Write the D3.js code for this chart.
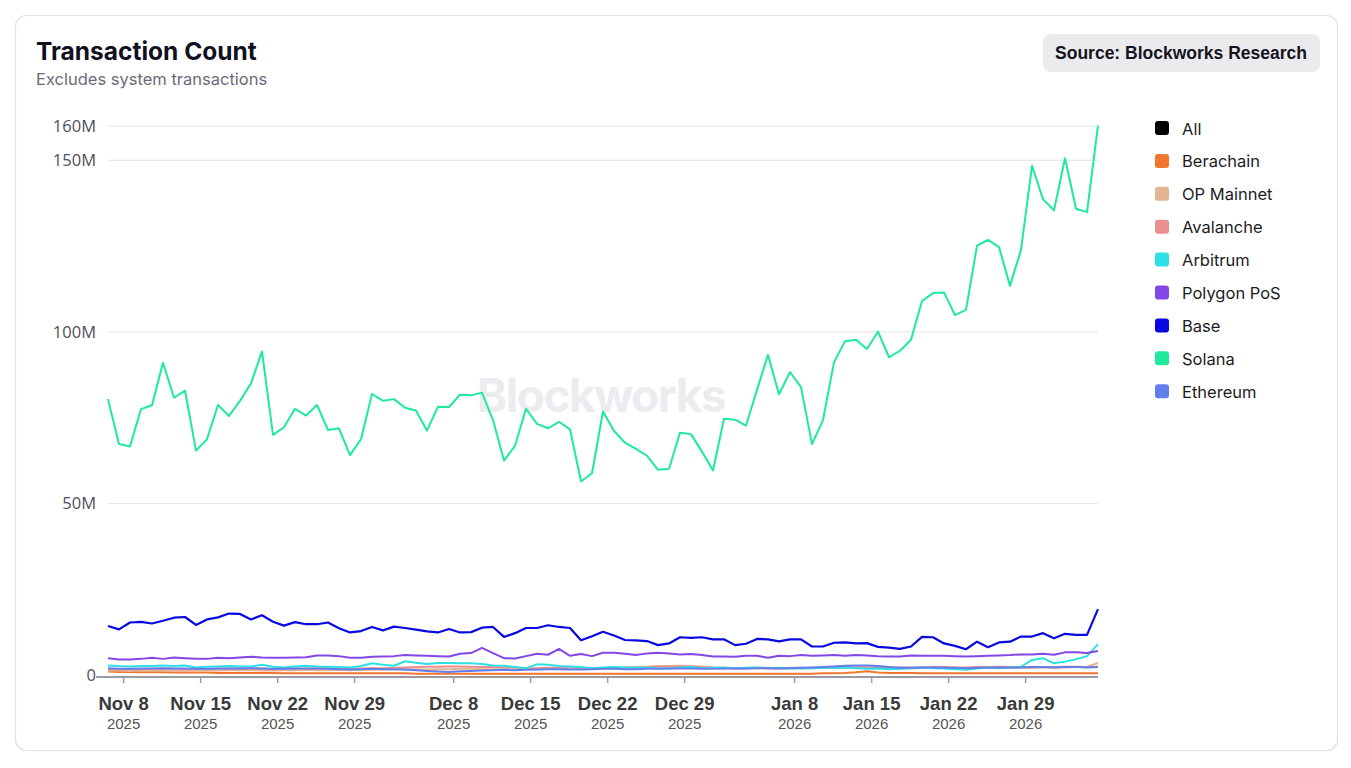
<!DOCTYPE html>
<html>
<head>
<meta charset="utf-8">
<script src="https://cdn.jsdelivr.net/npm/d3@7"></script>
<style>
  html, body { margin: 0; padding: 0; background: #ffffff; }
  svg { display: block; }
</style>
</head>
<body>
<svg id="chart" width="1351" height="768"></svg>
<script>
// ---------------- DATA ----------------
const startDate = "2025-11-07";
const pointCount = 91;

const seriesNames = ["All", "Berachain", "OP Mainnet", "Avalanche", "Arbitrum", "Polygon PoS", "Base", "Solana", "Ethereum"];
const seriesColors = ["#000000", "#f2762e", "#e3b492", "#ea8f8f", "#2de0e6", "#8247e5", "#0808e0", "#1eea9c", "#627eea"];

// values in millions of transactions per day
const solana = [80.4,67.3,66.6,77.5,78.6,91.0,80.8,82.9,65.4,68.7,78.7,75.5,79.9,85.0,94.3,70.0,72.2,77.6,75.6,78.7,71.4,71.9,64.1,68.7,81.9,79.9,80.4,77.9,77.1,71.2,78.2,78.1,81.7,81.5,82.3,74.3,62.5,66.8,77.6,73.2,71.9,73.8,71.6,56.4,58.8,76.8,71.1,67.7,65.9,63.9,59.8,60.1,70.6,70.2,65.1,59.6,74.7,74.4,72.7,83.1,93.3,81.8,88.3,83.9,67.3,74.3,91.1,97.3,97.7,95.0,100.1,92.6,94.5,97.7,109.0,111.3,111.5,104.9,106.4,125.1,126.8,124.7,113.4,123.9,148.4,138.7,135.4,150.6,135.9,134.9,160.1];
const base = [14.3,13.3,15.3,15.5,15.0,15.8,16.7,16.9,14.6,16.2,16.8,17.9,17.8,16.2,17.4,15.5,14.4,15.4,14.8,14.8,15.3,13.6,12.4,12.8,14.0,13.0,14.1,13.7,13.2,12.7,12.4,13.4,12.4,12.5,13.8,14.0,11.1,12.2,13.7,13.7,14.5,14.0,13.7,10.1,11.3,12.6,11.5,10.2,10.1,9.9,8.7,9.2,11.0,10.8,11.0,10.4,10.4,8.7,9.1,10.5,10.4,9.8,10.4,10.4,8.3,8.3,9.4,9.5,9.2,9.3,8.2,8.0,7.6,8.3,11.1,11.0,9.2,8.5,7.5,9.7,8.1,9.5,9.7,11.2,11.2,12.2,10.7,12.0,11.7,11.7,19.2];
const polygon = [4.9,4.5,4.5,4.7,5.0,4.7,5.1,4.9,4.7,4.7,5.0,4.9,5.1,5.3,5.1,5.0,5.0,5.1,5.2,5.7,5.7,5.5,5.0,5.0,5.3,5.4,5.5,5.8,5.7,5.6,5.5,5.4,6.2,6.4,7.9,6.4,4.9,4.8,5.5,6.2,5.9,7.6,5.6,6.1,5.5,6.5,6.5,6.2,5.8,6.3,6.5,6.3,6.0,6.1,5.8,5.4,5.4,5.3,5.6,5.6,5.0,5.6,5.5,5.8,5.6,5.7,5.8,5.6,5.8,5.7,5.5,5.4,5.4,5.7,5.6,5.6,5.6,5.5,5.4,5.5,5.6,5.7,5.8,6.0,6.0,6.2,5.9,6.6,6.6,6.4,7.0];
const arbitrum = [2.8,2.6,2.5,2.6,2.6,2.8,2.6,2.8,2.2,2.4,2.5,2.6,2.5,2.5,3.0,2.4,2.2,2.5,2.7,2.5,2.4,2.3,2.2,2.6,3.4,3.0,2.7,4.0,3.6,3.2,3.5,3.5,3.4,3.4,3.2,2.8,2.7,2.3,2.0,3.1,3.0,2.6,2.5,2.3,2.0,2.2,2.3,2.2,2.1,2.2,2.0,1.9,2.2,2.3,2.0,2.1,2.2,2.0,2.1,2.2,2.0,2.1,2.0,1.9,2.0,2.1,2.1,2.2,2.0,1.8,1.9,1.7,1.8,2.0,2.1,2.0,1.9,1.7,1.5,1.9,2.2,2.0,2.2,2.4,4.4,4.9,3.4,3.9,4.6,5.5,9.0];
const ethereum = [2.0,1.8,1.8,1.9,1.9,2.0,1.9,1.9,1.8,1.8,1.9,1.9,1.9,2.0,1.9,1.8,1.8,1.9,1.9,1.9,1.8,1.7,1.6,1.7,1.8,1.7,1.7,1.6,1.4,1.2,1.0,0.9,1.1,1.2,1.3,1.4,1.5,1.4,1.5,1.6,1.7,1.7,1.6,1.6,1.7,1.8,1.8,1.7,1.7,1.8,1.8,1.9,1.9,1.9,1.8,1.8,1.9,1.9,1.9,2.0,2.0,1.9,2.0,2.1,2.2,2.3,2.5,2.7,2.8,2.8,2.6,2.3,2.1,2.1,2.2,2.2,2.1,2.1,2.0,2.1,2.1,2.2,2.2,2.2,2.3,2.3,2.2,2.3,2.3,2.2,2.3];
const avalanche = [1.7,1.6,1.7,1.7,1.8,1.8,1.8,1.7,1.8,1.7,1.8,1.8,1.9,1.8,1.8,1.7,1.8,1.8,1.8,1.9,1.9,1.8,1.8,1.9,2.0,2.0,2.1,2.2,2.3,2.4,2.4,2.5,2.5,2.4,2.3,2.3,2.2,2.1,2.0,2.0,2.1,2.1,2.0,2.0,1.9,1.9,2.0,2.1,2.2,2.3,2.4,2.4,2.5,2.4,2.3,2.1,2.0,2.0,2.0,2.1,2.1,2.0,2.1,2.1,2.0,2.1,2.2,2.3,2.2,2.2,2.1,2.1,2.2,2.2,2.2,2.3,2.3,2.2,2.2,2.3,2.3,2.4,2.3,2.3,2.2,2.3,2.3,2.4,2.4,2.3,2.4];
const opMainnet = [1.3,1.3,1.2,1.3,1.3,1.4,1.3,1.3,1.3,1.4,1.3,1.4,1.4,1.4,1.3,1.3,1.4,1.4,1.5,1.4,1.4,1.5,1.4,1.5,1.5,1.6,1.6,1.6,1.7,1.6,1.7,1.7,1.8,1.8,1.7,1.7,1.6,1.6,1.7,1.7,1.8,1.8,1.7,1.8,1.9,2.0,2.1,2.2,2.3,2.4,2.6,2.6,2.7,2.6,2.4,2.2,2.1,2.0,2.0,2.0,1.9,1.9,2.0,2.0,2.1,2.1,2.0,2.1,2.2,2.1,2.0,1.9,1.9,2.0,2.0,2.1,2.1,2.0,2.0,2.1,2.1,2.2,2.1,2.1,2.2,2.2,2.1,2.2,2.3,2.4,3.5];
const berachain = [1.0,0.9,0.9,0.8,0.8,0.8,0.7,0.7,0.7,0.7,0.6,0.6,0.6,0.6,0.6,0.6,0.5,0.5,0.5,0.5,0.5,0.5,0.5,0.5,0.5,0.5,0.5,0.5,0.4,0.4,0.4,0.4,0.4,0.4,0.4,0.4,0.4,0.4,0.4,0.4,0.4,0.4,0.4,0.4,0.4,0.4,0.4,0.4,0.4,0.4,0.4,0.4,0.4,0.4,0.4,0.4,0.4,0.4,0.4,0.4,0.4,0.4,0.4,0.4,0.4,0.5,0.5,0.6,0.8,1.1,0.7,0.6,0.6,0.6,0.5,0.5,0.5,0.5,0.5,0.5,0.5,0.5,0.5,0.5,0.5,0.5,0.5,0.5,0.5,0.5,0.5];

const yTickValues = [0, 50, 100, 150, 160];
const yTickLabels = ["0", "50M", "100M", "150M", "160M"];
const xTickDates = ["2025-11-08","2025-11-15","2025-11-22","2025-11-29","2025-12-08","2025-12-15","2025-12-22","2025-12-29","2026-01-08","2026-01-15","2026-01-22","2026-01-29"];
const xTickMonth = ["Nov 8","Nov 15","Nov 22","Nov 29","Dec 8","Dec 15","Dec 22","Dec 29","Jan 8","Jan 15","Jan 22","Jan 29"];
const xTickYear = ["2025","2025","2025","2025","2025","2025","2025","2025","2026","2026","2026","2026"];

// series shown as lines ("All" is toggled off in the reference)
const seriesValues = {
  "Berachain": berachain,
  "OP Mainnet": opMainnet,
  "Avalanche": avalanche,
  "Arbitrum": arbitrum,
  "Polygon PoS": polygon,
  "Base": base,
  "Solana": solana,
  "Ethereum": ethereum
};

// ---------------- CHART ----------------
const svg = d3.select("#chart");
const parse = d3.timeParse("%Y-%m-%d");
const dates = d3.timeDay.range(parse(startDate), d3.timeDay.offset(parse(startDate), pointCount));

// card
svg.append("rect")
  .attr("x", 15.5).attr("y", 15.5).attr("width", 1322).attr("height", 735)
  .attr("rx", 11).attr("fill", "#ffffff")
  .attr("stroke", "#e2e2e6").attr("stroke-width", 1.2);

// title
svg.append("text").attr("x", 36).attr("y", 60)
  .style("font-family", "Inter, 'Noto Sans', sans-serif").style("font-weight", 700)
  .style("font-size", "24.5px").attr("fill", "#10101f").text("Transaction Count");
svg.append("text").attr("x", 36).attr("y", 85)
  .style("font-family", "Inter, 'Noto Sans', sans-serif").style("font-weight", 400)
  .style("font-size", "16.5px").attr("fill", "#6b6b78").text("Excludes system transactions");

// source badge
svg.append("rect").attr("x", 1043).attr("y", 34).attr("width", 277).attr("height", 38)
  .attr("rx", 8).attr("fill", "#ebebee");
svg.append("text").attr("x", 1181).attr("y", 58.5).attr("text-anchor", "middle")
  .style("font-family", "'Liberation Sans', Arial, sans-serif").style("font-weight", 700)
  .style("font-size", "17.5px").attr("fill", "#14141e").text("Source: Blockworks Research");

// scales
const x = d3.scaleTime()
  .domain([dates[0], dates[dates.length - 1]])
  .range([108, 1098]);
const y = d3.scaleLinear().domain([0, 160]).range([675, 126]);

// watermark
svg.append("text").attr("x", 601).attr("y", 412).attr("text-anchor", "middle")
  .style("font-family", "Inter, 'Noto Sans', sans-serif").style("font-weight", 700)
  .style("font-size", "46px").style("letter-spacing", "-1.5px")
  .attr("fill", "#ececf0").text("Blockworks");

// grid
const gridVals = yTickValues.filter(v => v > 0);
svg.append("g").selectAll("line").data(gridVals).join("line")
  .attr("x1", 108).attr("x2", 1098)
  .attr("y1", d => y(d)).attr("y2", d => y(d))
  .attr("stroke", "#e4e4e8").attr("stroke-width", 1);

// y axis labels
const yAxis = d3.axisLeft(y).tickValues(yTickValues)
  .tickFormat((d, i) => yTickLabels[i]).tickSize(0).tickPadding(0);
const gy = svg.append("g").attr("transform", "translate(96,0)").call(yAxis);
gy.select(".domain").remove();
gy.selectAll("text")
  .style("font-family", "'Open Sans', 'Noto Sans', sans-serif")
  .style("font-size", "16.5px").attr("fill", "#50505a");

// lines
const line = d3.line().x((d, i) => x(dates[i])).y(d => y(d));
const lineG = svg.append("g");
seriesNames.forEach((name, k) => {
  const vals = seriesValues[name];
  if (!vals) return;
  lineG.append("path").datum(vals)
    .attr("d", line)
    .attr("fill", "none")
    .attr("stroke", seriesColors[k])
    .attr("stroke-width", name === "Base" ? 2.2 : 2)
    .attr("stroke-linejoin", "round");
});

// x axis
const tickDates = xTickDates.map(s => d3.timeHour.offset(parse(s), 9));
const xAxis = d3.axisBottom(x).tickValues(tickDates).tickSize(6).tickFormat(() => "");
const gx = svg.append("g").attr("transform", "translate(0,677)").call(xAxis);
gx.select(".domain").attr("d", "M96,0H1098").attr("stroke", "#9a9aa2").attr("stroke-width", 2);
gx.selectAll(".tick line").attr("stroke", "#9a9aa2").attr("stroke-width", 1.5);
gx.selectAll(".tick").each(function(d, i) {
  const t = d3.select(this);
  t.select("text").remove();
  t.append("text").attr("y", 33).attr("text-anchor", "middle")
    .style("font-family", "'Liberation Sans', Arial, sans-serif").style("font-weight", 700)
    .style("font-size", "18.5px").attr("fill", "#3a3a3a").text(xTickMonth[i]);
  t.append("text").attr("y", 52).attr("text-anchor", "middle")
    .style("font-family", "'Liberation Sans', Arial, sans-serif").style("font-weight", 400)
    .style("font-size", "15px").attr("fill", "#555555").text(xTickYear[i]);
});

// legend
const legend = svg.append("g").attr("transform", "translate(1155,121)");
const rowH = 32.9;
seriesNames.forEach((name, k) => {
  const g = legend.append("g").attr("transform", `translate(0,${k * rowH})`);
  g.append("rect").attr("x", 0).attr("y", 0).attr("width", 14).attr("height", 14)
    .attr("rx", 3).attr("fill", seriesColors[k]);
  g.append("text").attr("x", 27).attr("y", 13.5)
    .style("font-family", "Inter, 'Noto Sans', sans-serif")
    .style("font-size", "16.5px").attr("fill", "#1c1c24").text(name);
});
</script>
</body>
</html>
